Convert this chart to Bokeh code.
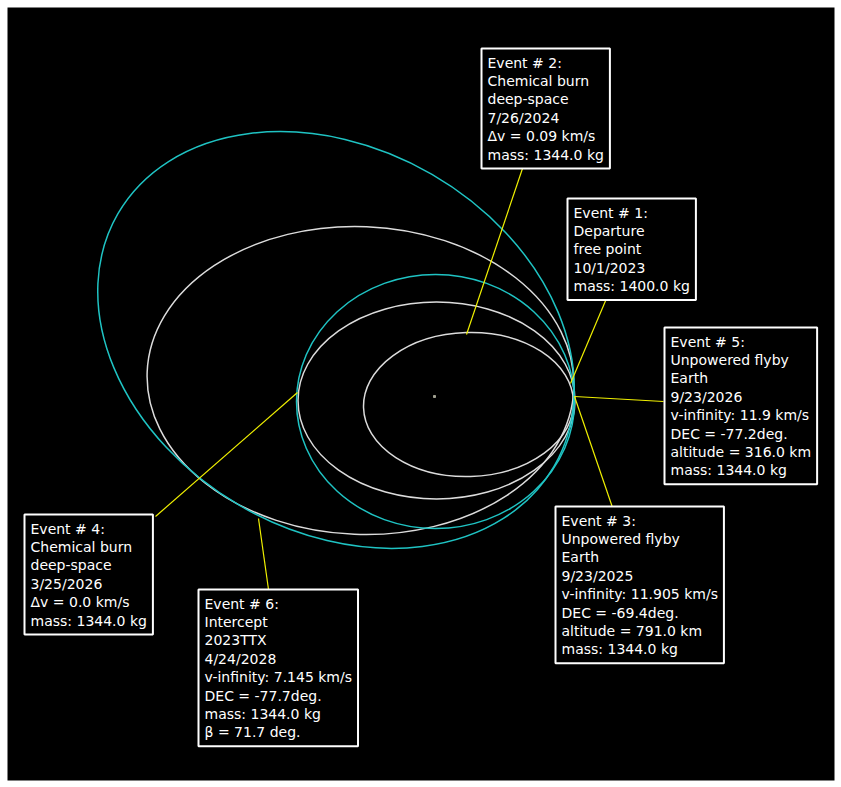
from bokeh.plotting import figure
from bokeh.models import Label, Range1d
from bokeh.embed import file_html
from bokeh.resources import INLINE

# Orbits (projected ellipses), units of 1e8 km, Sun at origin
orbit_cx = [0.34, 0.02, -0.74, 0.01, -0.985]
orbit_cy = [-0.08, -0.04, 0.16, -0.05, 0.565]
orbit_w = [2.10, 2.77, 4.27, 2.78, 5.04]
orbit_h = [1.44, 1.97, 3.08, 2.54, 3.83]
orbit_angle = [0.03, 0.0, -0.04, 0.0, -0.525]
orbit_kind = ["body", "body", "body", "traj", "traj"]

# Events: point on trajectory, end of leader line, top-left of label box
event_x = [1.36, 0.32, 1.40, -1.37, 1.40, -1.76]
event_y = [0.13, 0.62, 0.0, 0.04, 0.0, -1.22]
leader_x = [1.72, 0.88, 1.78, -2.79, 2.29, -1.66]
leader_y = [0.98, 2.28, -1.11, -1.20, -0.05, -1.93]
box_x = [1.33, 0.47, 1.21, -4.10, 2.30, -2.36]
box_y = [1.98, 3.48, -1.10, -1.18, 0.69, -1.93]

event_text = [
    "Event # 1:\nDeparture\nfree point\n10/1/2023\nmass: 1400.0 kg",
    "Event # 2:\nChemical burn\ndeep-space\n7/26/2024\n\u0394v = 0.09 km/s\nmass: 1344.0 kg",
    "Event # 3:\nUnpowered flyby\nEarth\n9/23/2025\nv-infinity: 11.905 km/s\nDEC = -69.4deg.\naltitude = 791.0 km\nmass: 1344.0 kg",
    "Event # 4:\nChemical burn\ndeep-space\n3/25/2026\n\u0394v = 0.0 km/s\nmass: 1344.0 kg",
    "Event # 5:\nUnpowered flyby\nEarth\n9/23/2026\nv-infinity: 11.9 km/s\nDEC = -77.2deg.\naltitude = 316.0 km\nmass: 1344.0 kg",
    "Event # 6:\nIntercept\n2023TTX\n4/24/2028\nv-infinity: 7.145 km/s\nDEC = -77.7deg.\nmass: 1344.0 kg\n\u03b2  = 71.7 deg.",
]

sun_x = [0.0]
sun_y = [0.0]

p = figure(width=841, height=787, output_backend="svg", toolbar_location=None,
           x_range=Range1d(-4.27, 4.00), y_range=Range1d(-3.84, 3.89),
           min_border=7, min_border_left=7, min_border_right=7,
           min_border_top=7, min_border_bottom=7)
p.axis.visible = False
p.grid.visible = False
p.outline_line_color = None
p.background_fill_color = "black"
p.border_fill_color = "white"

colors = {"body": "#dcdcdc", "traj": "#1fc3c3"}
for cx, cy, w, h, a, k in zip(orbit_cx, orbit_cy, orbit_w, orbit_h, orbit_angle, orbit_kind):
    p.ellipse(x=[cx], y=[cy], width=[w], height=[h], angle=[a],
              fill_color=None, line_color=colors[k], line_width=1.5)

p.scatter(sun_x, sun_y, size=2, color="#a0a090", marker="square")

p.segment(x0=event_x, y0=event_y, x1=leader_x, y1=leader_y,
          line_color="#f0f000", line_width=1.2)

for bx, by, t in zip(box_x, box_y, event_text):
    p.add_layout(Label(x=bx, y=by, text=t, anchor="top_left",
                       text_align="left", text_baseline="top",
                       text_font="DejaVu Sans", text_font_size="14px",
                       text_color="white", text_line_height=1.15,
                       padding=6,
                       background_fill_color="black",
                       border_line_color="white", border_line_width=2))

open("out.html", "w").write(file_html(p, INLINE))
